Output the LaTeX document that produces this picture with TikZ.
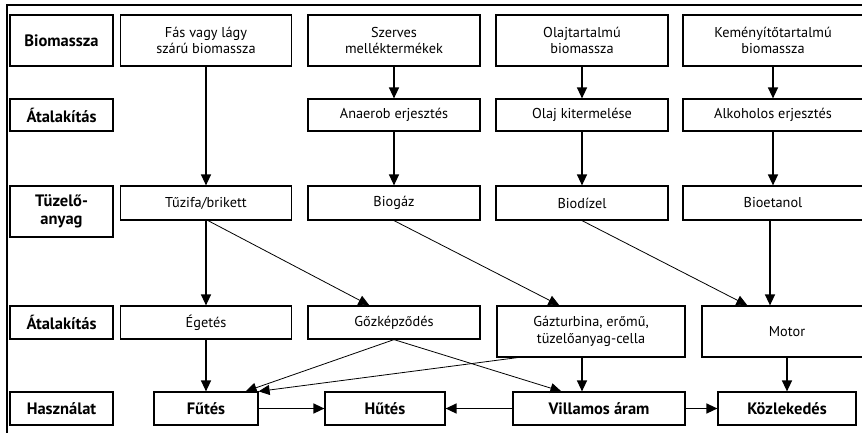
\documentclass[tikz,border=0pt]{standalone}
\usepackage{fontspec}
\setmainfont{PT Sans}
\usetikzlibrary{arrows.meta}

\begin{document}
\begin{tikzpicture}[
  x=1pt, y=-1pt,
  box/.style    = {draw, line width=1.2pt, align=center, inner sep=0pt,
                   font=\fontsize{14.3}{16.5}\selectfont, fill=white},
  lbox/.style   = {box, minimum width=103pt, font=\fontsize{16.5}{18}\selectfont\bfseries},
  cbox/.style   = {box, minimum width=172pt},
  ubox/.style   = {box, font=\fontsize{16.5}{18}\selectfont\bfseries},
  mainarr/.style= {-{Triangle[length=11pt,width=10pt]}, line width=1.4pt},
  diagarr/.style= {-{Triangle[length=11pt,width=10pt]}, line width=0.8pt},
]
\useasboundingbox (0,0) rectangle (862,432);
\clip (0,0) rectangle (862,432);
\fill[white] (0,0) rectangle (862,432);

% frame
\draw[line width=1.2pt] (7,440) -- (7,5) -- (870,5);

% row labels
\node[lbox, minimum height=51pt] (lbio)  at (61.5,40.5)  {Biomassza};
\node[lbox, minimum height=32pt] (latal) at (61.5,115)   {Átalakítás};
\node[lbox, minimum height=51pt] (ltuz)  at (61.5,211.5) {Tüzelő-\\anyag};
\node[lbox, minimum height=33pt] (latal2) at (61.5,322.5) {Átalakítás};
\node[lbox, minimum height=33pt] (lhasz) at (61.5,408.5) {Használat};

% biomassza
\node[cbox, minimum width=171pt, minimum height=51pt] (fas)    at (206,40.5) {Fás vagy lágy\\szárú biomassza};
\node[cbox, minimum height=51pt] (szerves) at (394,40.5) {Szerves\\melléktermékek};
\node[cbox, minimum height=51pt] (olaj)    at (582,40.5) {Olajtartalmú\\biomassza};
\node[cbox, minimum width=180pt, minimum height=51pt] (kemeny) at (773,40.5) {Keményítőtartalmú\\biomassza};

% átalakítás
\node[cbox, minimum height=32pt] (anaerob) at (394,115) {Anaerob erjesztés};
\node[cbox, minimum height=32pt] (kiterm)  at (582,115) {Olaj kitermelése};
\node[cbox, minimum width=180pt, minimum height=32pt] (alkohol) at (773,115) {Alkoholos erjesztés};

% tüzelőanyag
\node[cbox, minimum width=171pt, minimum height=34pt] (tuzifa) at (206,203) {Tűzifa/brikett};
\node[cbox, minimum height=34pt] (biogaz)   at (394,203) {Biogáz};
\node[cbox, minimum height=34pt] (biodizel) at (582,203) {Biodízel};
\node[cbox, minimum width=180pt, minimum height=34pt] (bioetanol) at (773,203) {Bioetanol};

% átalakítás 2
\node[cbox, minimum width=171pt, minimum height=33pt] (eget) at (206,322.5) {Égetés};
\node[cbox, minimum height=33pt] (gozk) at (394,322.5) {Gőzképződés};
\node[box, minimum width=188pt, minimum height=51pt] (gazt) at (591,331.5) {Gázturbina, erőmű,\\tüzelőanyag-cella};
\node[box, minimum width=170pt, minimum height=51pt] (motor) at (787,331.5) {Motor};

% használat
\node[ubox, minimum width=104pt, minimum height=33pt] (futes)   at (206,408.5) {Fűtés};
\node[ubox, minimum width=120pt, minimum height=33pt] (hutes)   at (385,408.5) {Hűtés};
\node[ubox, minimum width=172pt, minimum height=33pt] (villamos) at (599,408.5) {Villamos áram};
\node[ubox, minimum width=138pt, minimum height=33pt] (kozlek)  at (787,408.5) {Közlekedés};

% vertical chains
\draw[mainarr] (fas) -- (tuzifa);
\draw[mainarr] (szerves) -- (anaerob);
\draw[mainarr] (anaerob) -- (biogaz);
\draw[mainarr] (olaj) -- (kiterm);
\draw[mainarr] (kiterm) -- (biodizel);
\draw[mainarr] (kemeny) -- (alkohol);
\draw[mainarr] (alkohol) -- (bioetanol);
\draw[mainarr] ([xshift=-3pt]bioetanol.south) -- ([xshift=-3pt]bioetanol.south |- motor.north);
\draw[mainarr] (tuzifa) -- (eget);
\draw[mainarr] (eget) -- (eget.south |- futes.north);
\draw[mainarr] (motor) -- (kozlek);
\draw[mainarr] (kiterm.south |- gazt.south) -- (kiterm.south |- villamos.north);

% diagonal links
\draw[diagarr] ([xshift=2pt]tuzifa.south) -- ([xshift=62pt]gozk.north west);
\draw[diagarr] (biogaz.south) -- ([xshift=63pt]gazt.north west);
\draw[diagarr] (biodizel.south) -- ([xshift=46pt]motor.north west);
\draw[diagarr] (gozk.south) -- ([xshift=-13pt]futes.north east);
\draw[diagarr] (gozk.south) -- ([xshift=49pt]villamos.north west);
\draw[diagarr] ([xshift=21pt]gazt.south west) -- (futes.north east);

% usage row
\draw[mainarr] (futes) -- (hutes);
\draw[mainarr] (villamos) -- (hutes);
\draw[mainarr] (villamos) -- (kozlek);

\end{tikzpicture}
\end{document}
